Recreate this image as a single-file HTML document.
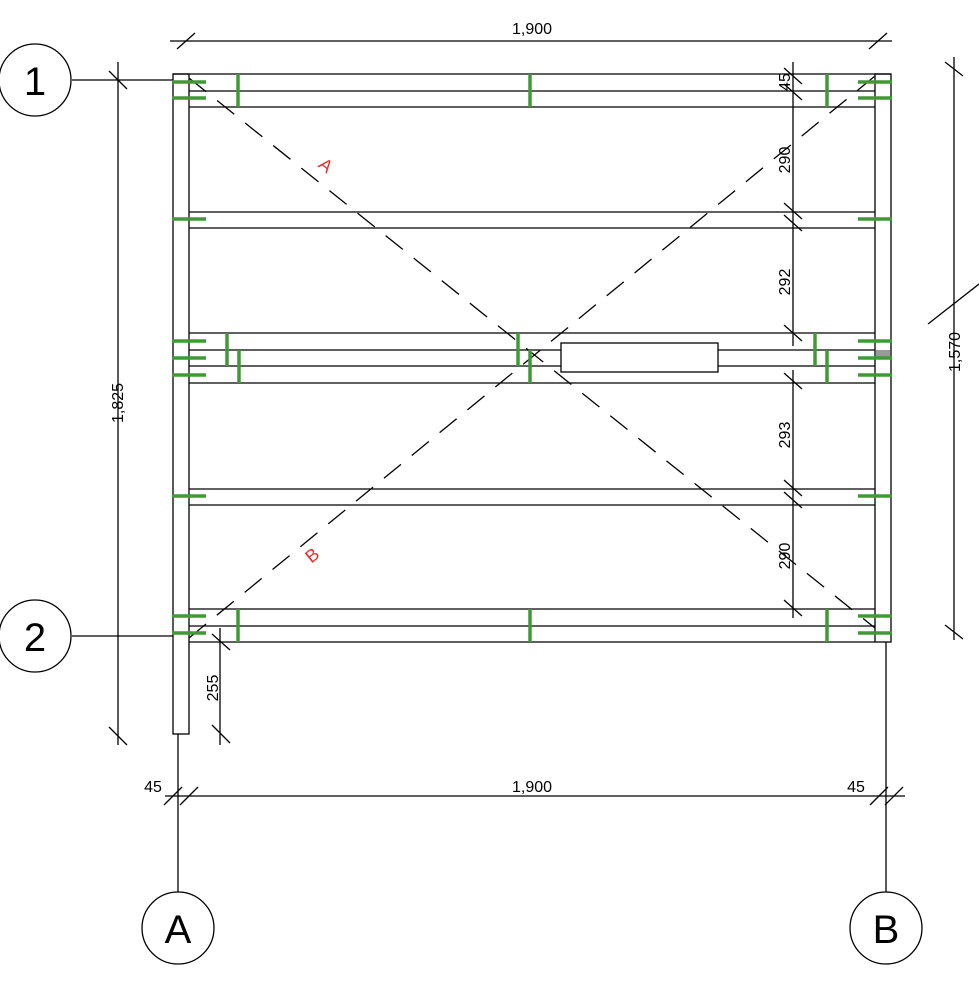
<!DOCTYPE html>
<html><head><meta charset="utf-8"><style>
html,body{margin:0;padding:0;background:#fff;}
svg{display:block;}
text{font-family:"Liberation Sans",sans-serif;}
</style></head><body>
<svg width="979" height="992" viewBox="0 0 979 992" xmlns="http://www.w3.org/2000/svg">
<g stroke="#000" stroke-width="1.3" fill="none">
<rect x="173" y="74" width="16" height="660"/>
<rect x="875" y="74" width="16" height="568"/>
<line x1="173" y1="74" x2="891" y2="74"/>
<line x1="189" y1="91" x2="875" y2="91"/>
<line x1="189" y1="107" x2="875" y2="107"/>
<line x1="189" y1="212" x2="875" y2="212"/>
<line x1="189" y1="228" x2="875" y2="228"/>
<line x1="189" y1="333" x2="875" y2="333"/>
<line x1="189" y1="350" x2="875" y2="350"/>
<line x1="189" y1="366" x2="875" y2="366"/>
<line x1="189" y1="383" x2="875" y2="383"/>
<line x1="189" y1="489" x2="875" y2="489"/>
<line x1="189" y1="505" x2="875" y2="505"/>
<line x1="189" y1="609" x2="875" y2="609"/>
<line x1="189" y1="626" x2="875" y2="626"/>
<line x1="189" y1="642" x2="875" y2="642"/>
<line x1="72" y1="80" x2="173" y2="80"/>
<line x1="72" y1="636" x2="173" y2="636"/>
<line x1="178" y1="734" x2="178" y2="892"/>
<line x1="886" y1="642" x2="886" y2="892"/>
<circle cx="35" cy="80" r="36"/>
<circle cx="35" cy="636" r="36"/>
<circle cx="178" cy="928" r="36"/>
<circle cx="886" cy="928" r="36"/>
<line x1="170" y1="41" x2="892" y2="41"/>
<line x1="177" y1="49" x2="195" y2="33"/>
<line x1="869" y1="49" x2="887" y2="33"/>
<line x1="118" y1="62" x2="118" y2="745"/>
<line x1="109" y1="71" x2="127" y2="89"/>
<line x1="109" y1="727" x2="127" y2="745"/>
<line x1="954" y1="57" x2="954" y2="640"/>
<line x1="945" y1="62" x2="963" y2="76"/>
<line x1="945" y1="625" x2="963" y2="639"/>
<line x1="928" y1="324" x2="979" y2="284"/>
<line x1="165" y1="796" x2="905" y2="796"/>
<line x1="164" y1="805" x2="182" y2="787"/>
<line x1="180" y1="805" x2="198" y2="787"/>
<line x1="870" y1="805" x2="888" y2="787"/>
<line x1="885" y1="805" x2="903" y2="787"/>
<line x1="220" y1="628" x2="220" y2="745"/>
<line x1="212" y1="634" x2="230" y2="650"/>
<line x1="212" y1="725" x2="230" y2="743"/>
<line x1="793" y1="62" x2="793" y2="346"/>
<line x1="793" y1="370" x2="793" y2="618"/>
<g>
<line x1="784" y1="68" x2="802" y2="84"/>
<line x1="784" y1="84" x2="802" y2="100"/>
<line x1="784" y1="203" x2="802" y2="219"/>
<line x1="784" y1="215" x2="802" y2="231"/>
<line x1="784" y1="325" x2="802" y2="341"/>
<line x1="784" y1="373" x2="802" y2="389"/>
<line x1="784" y1="480" x2="802" y2="496"/>
<line x1="784" y1="492" x2="802" y2="508"/>
<line x1="784" y1="600" x2="802" y2="616"/>
</g>
<line x1="189" y1="78" x2="875" y2="628" stroke-dasharray="22,14"/>
<line x1="189" y1="638" x2="875" y2="76" stroke-dasharray="22,14"/>
<rect x="561" y="343" width="157" height="29" fill="#fff"/>
</g>
<rect x="876" y="350" width="14" height="8" fill="#999"/>
<g stroke="#3f9a35" stroke-width="3.5" stroke-linecap="butt">
<g>
<line x1="172" y1="82" x2="206" y2="82"/><line x1="172" y1="98" x2="206" y2="98"/>
<line x1="172" y1="219" x2="206" y2="219"/>
<line x1="172" y1="341" x2="206" y2="341"/><line x1="172" y1="358" x2="206" y2="358"/><line x1="172" y1="375" x2="206" y2="375"/>
<line x1="172" y1="496" x2="206" y2="496"/>
<line x1="172" y1="616" x2="206" y2="616"/><line x1="172" y1="633" x2="206" y2="633"/>
<line x1="858" y1="82" x2="892" y2="82"/><line x1="858" y1="98" x2="892" y2="98"/>
<line x1="858" y1="219" x2="892" y2="219"/>
<line x1="858" y1="341" x2="892" y2="341"/><line x1="858" y1="358" x2="892" y2="358"/><line x1="858" y1="375" x2="892" y2="375"/>
<line x1="858" y1="496" x2="892" y2="496"/>
<line x1="858" y1="616" x2="892" y2="616"/><line x1="858" y1="633" x2="892" y2="633"/>
</g>
<line x1="238" y1="74" x2="238" y2="107"/><line x1="530" y1="74" x2="530" y2="107"/><line x1="827" y1="74" x2="827" y2="107"/>
<line x1="227" y1="333" x2="227" y2="366"/><line x1="239" y1="350" x2="239" y2="383"/>
<line x1="518" y1="333" x2="518" y2="366"/><line x1="530" y1="350" x2="530" y2="383"/>
<line x1="815" y1="333" x2="815" y2="366"/><line x1="827" y1="350" x2="827" y2="383"/>
<line x1="238" y1="609" x2="238" y2="642"/><line x1="530" y1="609" x2="530" y2="642"/><line x1="827" y1="609" x2="827" y2="642"/>
</g>
<g font-size="16" fill="#000">
<text x="532" y="34" text-anchor="middle">1,900</text>
<text x="532" y="792" text-anchor="middle">1,900</text>
<text x="153" y="792" text-anchor="middle">45</text>
<text x="856" y="792" text-anchor="middle">45</text>
<text transform="translate(123,403) rotate(-90)" text-anchor="middle">1,825</text>
<text transform="translate(960,352) rotate(-90)" text-anchor="middle">1,570</text>
<text transform="translate(218,688) rotate(-90)" text-anchor="middle">255</text>
<text transform="translate(790,82) rotate(-90)" text-anchor="middle">45</text>
<text transform="translate(790,160) rotate(-90)" text-anchor="middle">290</text>
<text transform="translate(790,282) rotate(-90)" text-anchor="middle">292</text>
<text transform="translate(790,435) rotate(-90)" text-anchor="middle">293</text>
<text transform="translate(790,556) rotate(-90)" text-anchor="middle">290</text>
</g>
<g font-size="40" fill="#000" text-anchor="middle">
<text x="35" y="95">1</text>
<text x="35" y="651">2</text>
<text x="178" y="943">A</text>
<text x="886" y="943">B</text>
</g>
<g font-size="18" fill="#e8302a" text-anchor="middle">
<text transform="translate(322,170) rotate(39)">A</text>
<text transform="translate(316,560) rotate(-39)">B</text>
</g>
</svg>
</body></html>
